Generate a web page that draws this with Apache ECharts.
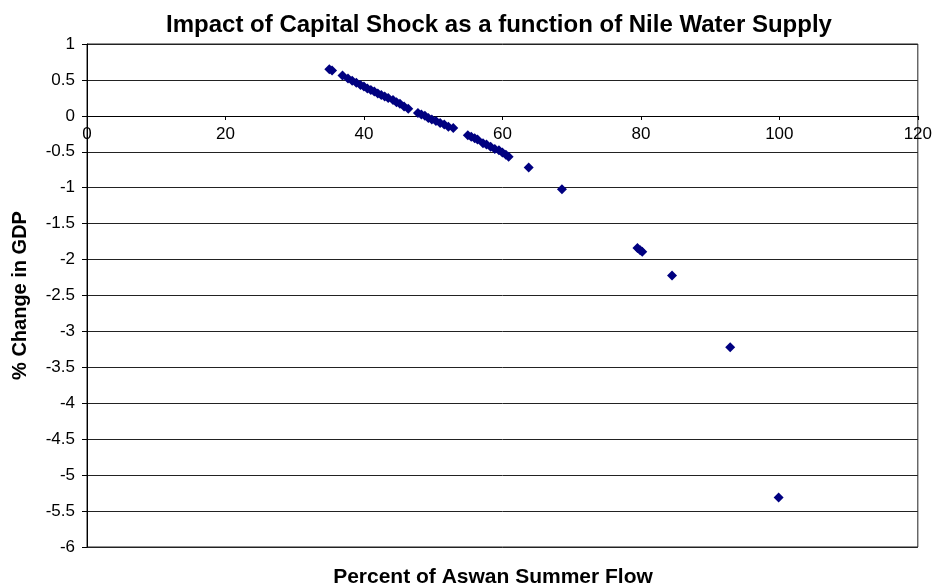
<!DOCTYPE html>
<html>
<head>
<meta charset="utf-8">
<title>Impact of Capital Shock</title>
<script src="https://cdn.jsdelivr.net/npm/echarts@6/dist/echarts.min.js"></script>
<style>
  html, body { margin: 0; padding: 0; background: #fff; }
  #chart { width: 935px; height: 583px; }
</style>
</head>
<body>
<div id="chart"></div>
<script>
// percent of Aswan summer flow (x) and % change in GDP (y)
const flowPct = [
  35.0, 35.4, 36.9, 37.7, 38.3, 38.9, 39.5, 40.0, 40.5, 41.0,
  41.5, 42.0, 42.5, 43.0, 43.5, 44.2, 44.7, 45.2, 45.8, 46.4,
  47.8, 48.3, 48.8, 49.3, 49.8, 50.4, 51.0, 51.6, 52.2, 52.9,
  55.0, 55.5, 56.0, 56.4, 57.2, 57.7, 58.3, 58.9, 59.5, 60.0,
  60.5, 60.9, 63.8, 68.6, 79.5, 79.9, 80.2, 84.5, 92.9, 99.9
]
const gdpChange = [
  0.65, 0.63, 0.56, 0.52, 0.49, 0.46, 0.43, 0.41, 0.38, 0.36,
  0.34, 0.31, 0.29, 0.27, 0.25, 0.22, 0.19, 0.17, 0.13, 0.10,
  0.04, 0.02, 0.00, -0.03, -0.05, -0.07, -0.10, -0.12, -0.15, -0.17,
  -0.27, -0.29, -0.31, -0.33, -0.38, -0.40, -0.43, -0.46, -0.48, -0.51,
  -0.54, -0.57, -0.72, -1.02, -1.84, -1.87, -1.89, -2.22, -3.22, -5.31
]

const font = 'Liberation Sans, Arial, sans-serif'
const lineColor = '#222'

const chart = echarts.init(document.getElementById('chart'))
const points = flowPct.map((x, i) => [x, gdpChange[i]])

// plot area: top 44, bottom 547 -> y = 0 sits 1/7 of the way down
const plotTop = 44, plotBottom = 547
const zeroOffset = Math.round((plotBottom - plotTop) * 6 / 7)

chart.setOption({
  animation: false,
  backgroundColor: '#fff',
  title: [{
    text: 'Impact of Capital Shock as a function of Nile Water Supply',
    left: 494,
    top: 8,
    textAlign: 'center',
    textStyle: { fontFamily: font, fontSize: 24, fontWeight: 'bold', color: '#000' }
  }, {
    text: 'Percent of Aswan Summer Flow',
    left: 488,
    top: 562,
    textAlign: 'center',
    textStyle: { fontFamily: font, fontSize: 21, fontWeight: 'bold', color: '#000' }
  }],
  grid: {
    left: 87,
    right: 17,
    top: plotTop,
    bottom: 583 - plotBottom,
    show: true,
    borderColor: lineColor,
    borderWidth: 1
  },
  xAxis: {
    type: 'value',
    min: 0,
    max: 120,
    interval: 20,
    position: 'bottom',
    offset: -zeroOffset,
    axisLine: { onZero: false, lineStyle: { color: '#000', width: 1 } },
    axisTick: { show: true, inside: false, length: 4, lineStyle: { color: '#000' } },
    axisLabel: { fontFamily: font, fontSize: 17, color: '#000', margin: 10 },
    splitLine: { show: false }
  },
  yAxis: {
    type: 'value',
    min: -6,
    max: 1,
    interval: 0.5,
    name: '% Change in GDP',
    nameLocation: 'middle',
    nameRotate: 90,
    nameGap: 57,
    nameTextStyle: { fontFamily: font, fontSize: 20, fontWeight: 'bold', color: '#000' },
    axisLine: { show: true, lineStyle: { color: '#000', width: 1 } },
    axisTick: { show: true, inside: false, length: 5, lineStyle: { color: '#000' } },
    axisLabel: { fontFamily: font, fontSize: 17, color: '#000', margin: 12 },
    splitLine: { show: true, lineStyle: { color: lineColor, width: 1 } }
  },
  series: [{
    type: 'scatter',
    data: points,
    symbol: 'diamond',
    symbolSize: 10,
    itemStyle: { color: '#000080', opacity: 1 }
  }]
})
</script>
</body>
</html>
